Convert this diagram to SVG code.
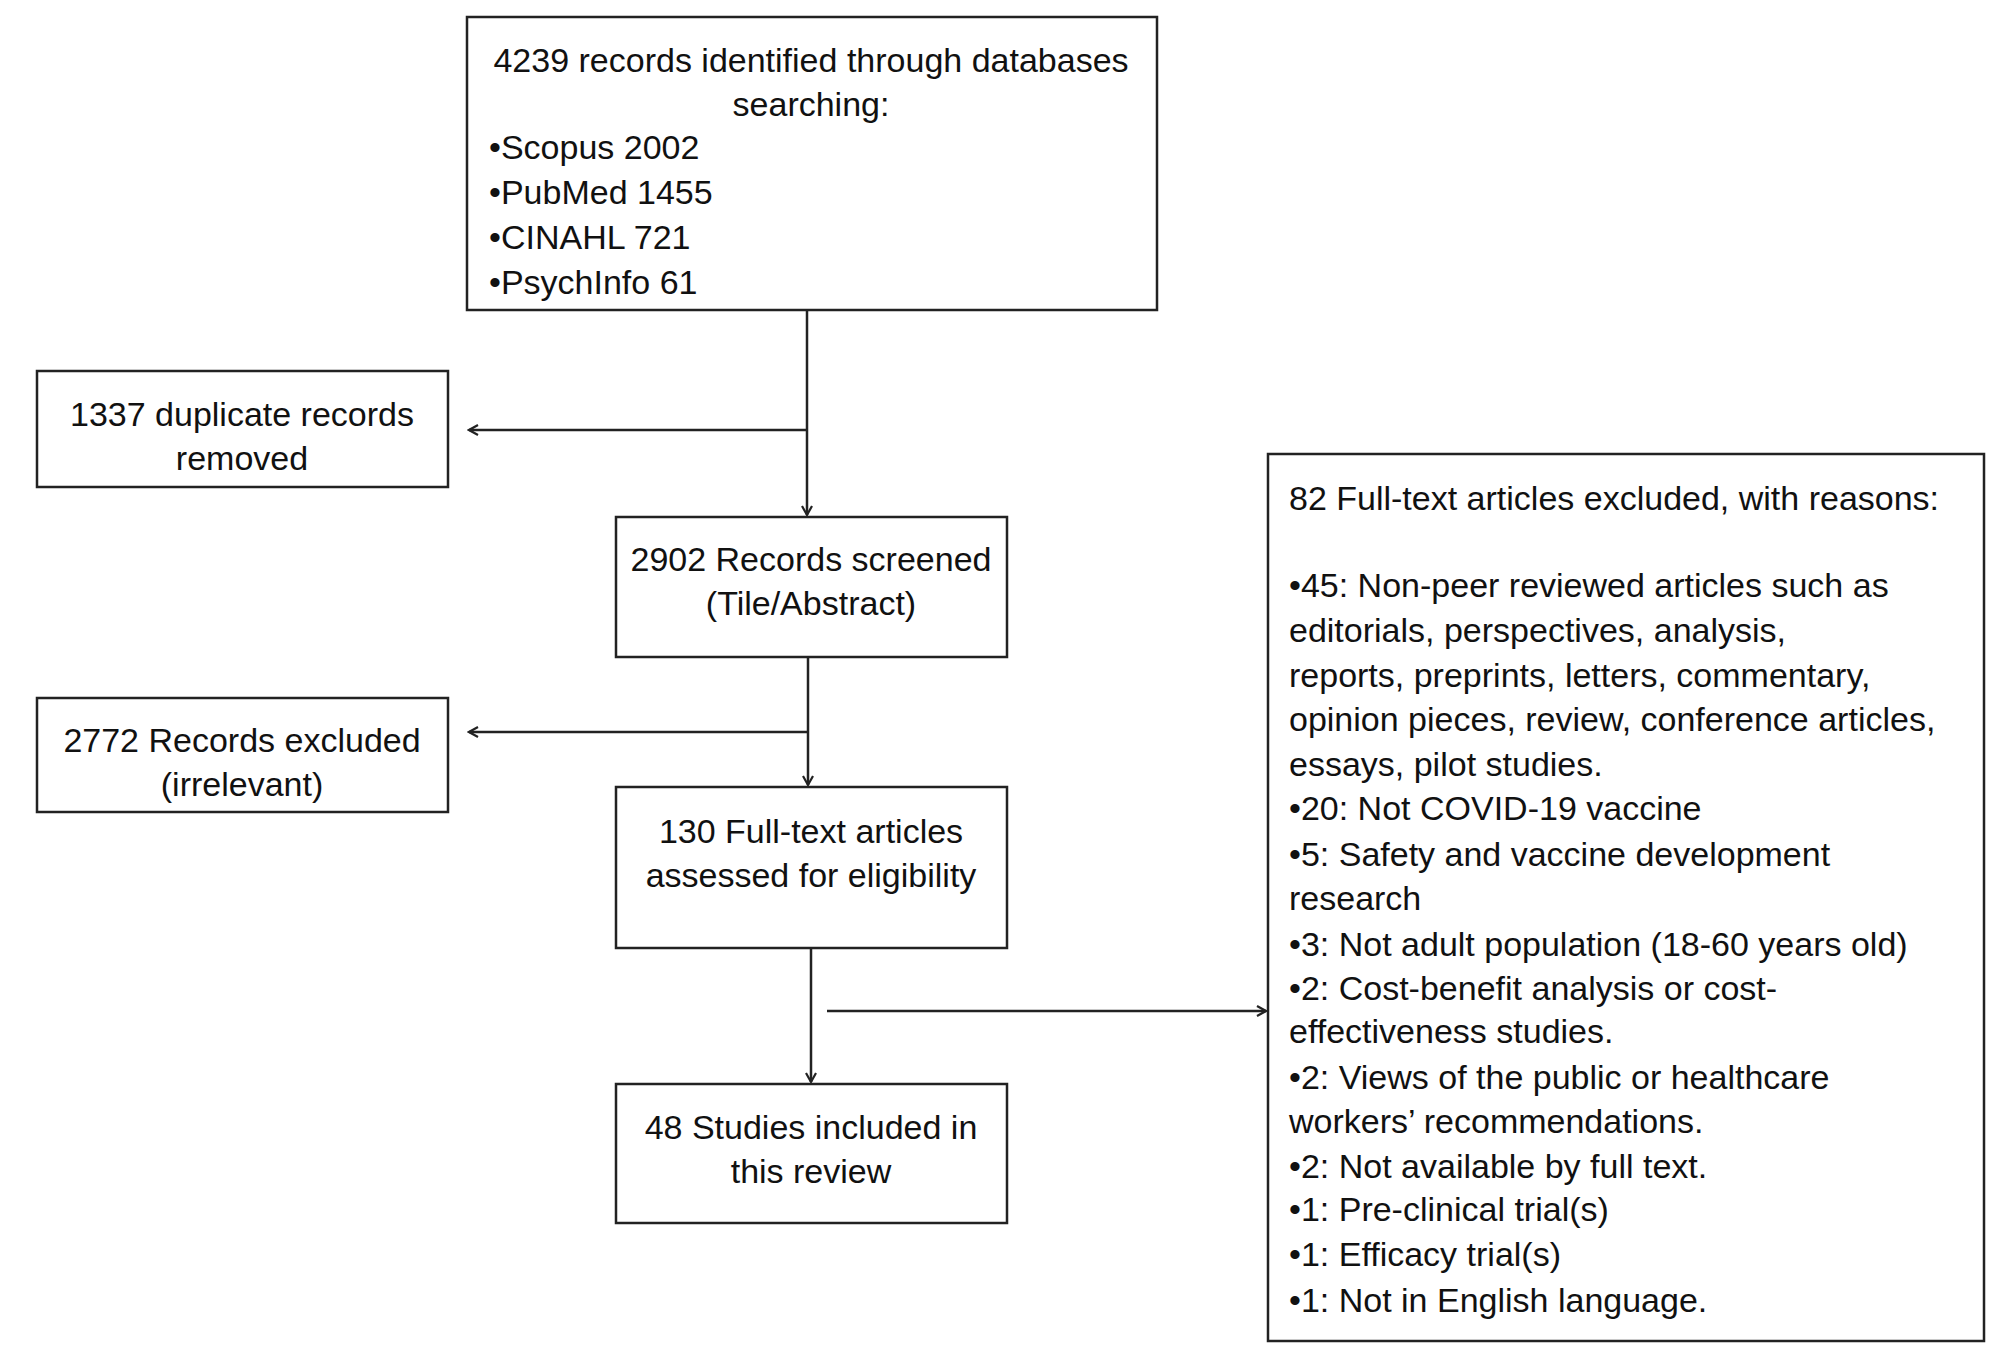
<svg xmlns="http://www.w3.org/2000/svg" width="2011" height="1356" viewBox="0 0 2011 1356">
<defs>
<style>
.box{fill:#fff;stroke:#222;stroke-width:2.5}
.t{font-family:"Liberation Sans",Arial,sans-serif;font-size:34px;fill:#111}
.c{text-anchor:middle}
.ln{stroke:#222;stroke-width:2.5;fill:none}
</style>
<marker id="arr" markerWidth="12" markerHeight="12" refX="10" refY="6" orient="auto" markerUnits="userSpaceOnUse">
<path d="M1,1 L10,6 L1,11" fill="none" stroke="#222" stroke-width="2.2"/>
</marker>
</defs>
<rect width="2011" height="1356" fill="#fff"/>
<g id="connectors">
<path class="ln" d="M807,311 V515" marker-end="url(#arr)"/>
<path class="ln" d="M807,430 H469" marker-end="url(#arr)"/>
<path class="ln" d="M808,658 V785" marker-end="url(#arr)"/>
<path class="ln" d="M808,732 H469" marker-end="url(#arr)"/>
<path class="ln" d="M811,949 V1082" marker-end="url(#arr)"/>
<path class="ln" d="M827,1011 H1266" marker-end="url(#arr)"/>
</g>
<g id="n1">
<rect class="box" x="467" y="17" width="690" height="293"/>
<text class="t c" x="811" y="72">4239 records identified through databases</text>
<text class="t c" x="811" y="116">searching:</text>
<text class="t" x="489" y="159">•Scopus 2002</text>
<text class="t" x="489" y="204">•PubMed 1455</text>
<text class="t" x="489" y="249">•CINAHL 721</text>
<text class="t" x="489" y="294">•PsychInfo 61</text>
</g>
<g id="n2">
<rect class="box" x="37" y="371" width="411" height="116"/>
<text class="t c" x="242" y="426">1337 duplicate records</text>
<text class="t c" x="242" y="470">removed</text>
</g>
<g id="n3">
<rect class="box" x="616" y="517" width="391" height="140"/>
<text class="t c" x="811" y="571">2902 Records screened</text>
<text class="t c" x="811" y="615">(Tile/Abstract)</text>
</g>
<g id="n4">
<rect class="box" x="37" y="698" width="411" height="114"/>
<text class="t c" x="242" y="752">2772 Records excluded</text>
<text class="t c" x="242" y="796">(irrelevant)</text>
</g>
<g id="n5">
<rect class="box" x="616" y="787" width="391" height="161"/>
<text class="t c" x="811" y="843">130 Full-text articles</text>
<text class="t c" x="811" y="887">assessed for eligibility</text>
</g>
<g id="n6">
<rect class="box" x="616" y="1084" width="391" height="139"/>
<text class="t c" x="811" y="1139">48 Studies included in</text>
<text class="t c" x="811" y="1183">this review</text>
</g>
<g id="n7">
<rect class="box" x="1268" y="454" width="716" height="887"/>
<text class="t" x="1289" y="510">82 Full-text articles excluded, with reasons:</text>
<text class="t" x="1289" y="597">•45: Non-peer reviewed articles such as</text>
<text class="t" x="1289" y="642">editorials, perspectives, analysis,</text>
<text class="t" x="1289" y="687">reports, preprints, letters, commentary,</text>
<text class="t" x="1289" y="731">opinion pieces, review, conference articles,</text>
<text class="t" x="1289" y="776">essays, pilot studies.</text>
<text class="t" x="1289" y="820">•20: Not COVID-19 vaccine</text>
<text class="t" x="1289" y="866">•5: Safety and vaccine development</text>
<text class="t" x="1289" y="910">research</text>
<text class="t" x="1289" y="956">•3: Not adult population (18-60 years old)</text>
<text class="t" x="1289" y="1000">•2: Cost-benefit analysis or cost-</text>
<text class="t" x="1289" y="1043">effectiveness studies.</text>
<text class="t" x="1289" y="1089">•2: Views of the public or healthcare</text>
<text class="t" x="1289" y="1133">workers’ recommendations.</text>
<text class="t" x="1289" y="1178">•2: Not available by full text.</text>
<text class="t" x="1289" y="1221">•1: Pre-clinical trial(s)</text>
<text class="t" x="1289" y="1266">•1: Efficacy trial(s)</text>
<text class="t" x="1289" y="1312">•1: Not in English language.</text>
</g>
</svg>
